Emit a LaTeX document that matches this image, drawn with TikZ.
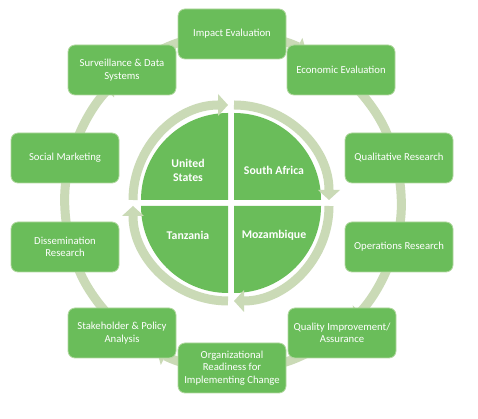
\documentclass[tikz,border=0pt]{standalone}
\usepackage{fontspec}
\setmainfont{Carlito}
\usetikzlibrary{arrows.meta}
\definecolor{boxgreen}{RGB}{106,189,90}
\definecolor{ringgreen}{RGB}{202,218,182}
\definecolor{boxedge}{RGB}{178,216,160}
\begin{document}
\begin{tikzpicture}[x=1pt,y=1pt,
  box/.style={draw=boxedge, line width=0.8pt, fill=boxgreen, rounded corners=7pt,
    minimum width=108pt, minimum height=50pt, inner sep=1pt, align=center,
    text=white, font=\fontsize{10.7}{12.5}\selectfont},
  ring/.style={draw=ringgreen, line width=9pt, -{Triangle[length=9pt,width=20pt,line width=0pt]}},
  inring/.style={draw=ringgreen, line width=9pt, -{Triangle[length=10pt,width=22pt,line width=0pt]}},
  quad/.style={fill=boxgreen},
  qlabel/.style={text=white, font=\bfseries\fontsize{11.8}{14}\selectfont, align=center}]
\fill[white] (0,0) rectangle (478,419);
\useasboundingbox (0,0) rectangle (478,419);
\coordinate (C) at (233,217);
% outer ring segments (clockwise)
\foreach \a/\b in {90/64.2, 50.7/19.3, 14.8/-11.8, -15.2/-44.1, -50.2/-76.6,
                   -90/-116.8, -130.3/-160.4, -165/-191.5, 165/135.4, 130/104.1}
  \draw[ring] (C) ++(\a:168pt) arc[start angle=\a, end angle=\b, radius=168pt];
% boxes
\node[box] (imp) at (232,385) {Impact Evaluation};
\node[box] (eco) at (341,349) {Economic Evaluation};
\node[box] (qual) at (399,261) {Qualitative Research};
\node[box] (ops) at (399,172) {Operations Research};
\node[box] (qi) at (342,86) {Quality Improvement/\\Assurance};
\node[box] (org) at (232,51) {Organizational\\Readiness for\\Implementing Change};
\node[box] (stk) at (122,86) {Stakeholder \& Policy\\Analysis};
\node[box] (dis) at (65,172) {Dissemination\\Research};
\node[box] (soc) at (65,261) {Social Marketing};
\node[box] (sur) at (122,349) {Surveillance \& Data\\Systems};
% inner quadrants
\coordinate (ul) at (228,219);
\coordinate (ur) at (234,219);
\coordinate (lr) at (234,213);
\coordinate (ll) at (228,213);
\fill[quad] (ul) -- ++(-87pt,0) arc[start angle=180,end angle=90,radius=87pt] -- cycle;
\fill[quad] (ur) -- ++(0,87pt) arc[start angle=90,end angle=0,radius=87pt] -- cycle;
\fill[quad] (lr) -- ++(87pt,0) arc[start angle=0,end angle=-90,radius=87pt] -- cycle;
\fill[quad] (ll) -- ++(0,-87pt) arc[start angle=-90,end angle=-180,radius=87pt] -- cycle;
% inner arcs
\draw[inring] (ul) ++(180:95pt) arc[start angle=180,end angle=90,radius=95pt];
\draw[inring] (ur) ++(90:95pt) arc[start angle=90,end angle=0,radius=95pt];
\draw[inring] (lr) ++(0:95pt) arc[start angle=0,end angle=-90,radius=95pt];
\draw[inring] (ll) ++(-90:95pt) arc[start angle=-90,end angle=-180,radius=95pt];
% labels
\node[qlabel] (us) at (188,249) {United\\States};
\node[qlabel] (sa) at (274,249) {South Africa};
\node[qlabel] (tz) at (188,184) {Tanzania};
\node[qlabel] (mz) at (274,184) {Mozambique};
\end{tikzpicture}
\end{document}
